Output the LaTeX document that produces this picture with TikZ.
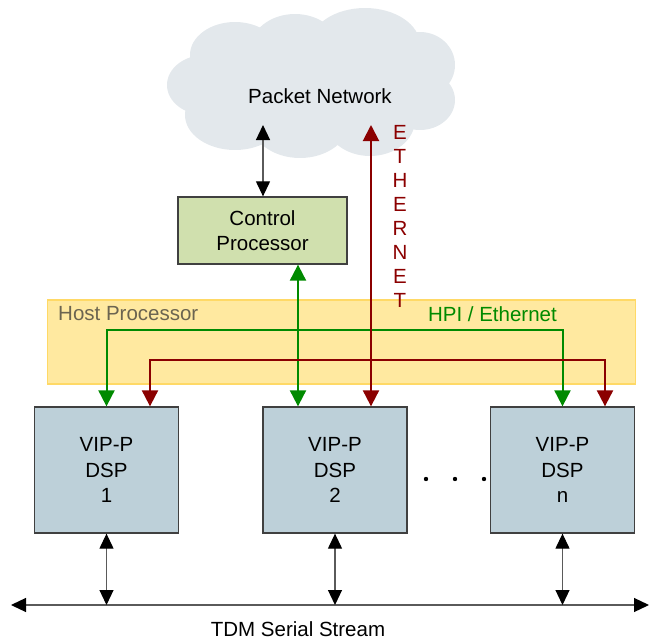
\documentclass[tikz,border=0pt]{standalone}
\usepackage{fontspec}
\setmainfont{Liberation Sans}
\usetikzlibrary{arrows.meta}
\definecolor{cloudfill}{HTML}{E3E8EC}
\definecolor{ctrlfill}{HTML}{D0E0AE}
\definecolor{hostfill}{HTML}{FFE9A0}
\definecolor{hostedge}{HTML}{FFD966}
\definecolor{hosttext}{HTML}{6B6450}
\definecolor{dspfill}{HTML}{BDD0D9}
\definecolor{boxedge}{HTML}{404040}
\definecolor{hpigreen}{HTML}{008A00}
\definecolor{ethred}{HTML}{8B0000}
\definecolor{wire}{HTML}{5A5A5A}
\tikzset{
  lbl/.style={font=\fontsize{20.5}{25.5}\selectfont, align=center, inner sep=0pt},
  ctrlbox/.style={draw=boxedge, line width=1.3pt, fill=ctrlfill, minimum width=169pt, minimum height=67pt, lbl},
  dspbox/.style={draw=boxedge, line width=1.3pt, fill=dspfill, minimum width=144pt, minimum height=126pt, lbl},
  blkarrow/.style={draw=wire, line width=1.2pt, {Triangle[length=15pt,width=14pt,color=black]}-{Triangle[length=15pt,width=14pt,color=black]}},
  grnarrow/.style={draw=hpigreen, line width=2pt, {Triangle[length=16pt,width=16pt]}-{Triangle[length=16pt,width=16pt]}},
  redarrow/.style={draw=ethred, line width=2pt, {Triangle[length=16pt,width=16pt]}-{Triangle[length=16pt,width=16pt]}},
}
\begin{document}
\begin{tikzpicture}[x=1pt, y=-1pt]
\useasboundingbox (0,0) rectangle (649,640);

% cloud built from overlapping puffs
\begin{scope}[fill=cloudfill]
  \fill (205,85) ellipse [x radius=38, y radius=30];
  \fill (235,55) ellipse [x radius=45, y radius=33];
  \fill (295,50) ellipse [x radius=45, y radius=36];
  \fill (365,45) ellipse [x radius=55, y radius=37];
  \fill (420,65) ellipse [x radius=35, y radius=33];
  \fill (420,100) ellipse [x radius=35, y radius=30];
  \fill (370,120) ellipse [x radius=45, y radius=36];
  \fill (300,120) ellipse [x radius=50, y radius=38];
  \fill (235,115) ellipse [x radius=50, y radius=35];
  \fill (310,90) ellipse [x radius=120, y radius=50];
\end{scope}
\node[lbl] (net) at (320,96) {Packet Network};

% host processor band
\node[draw=hostedge, line width=1.2pt, fill=hostfill, minimum width=588pt, minimum height=84pt, inner sep=0pt] (host) at (341.5,342) {};
\node[lbl, text=hosttext, anchor=west] (hostlbl) at (58,314) {Host Processor};
\node[lbl, text=hpigreen, anchor=east] (hpilbl) at (557,314) {HPI / Ethernet};

% processors
\node[ctrlbox] (ctrl) at (262.5,230.5) {Control\\Processor};
\node[dspbox] (dsp1) at (106.5,470) {VIP-P\\DSP\\1};
\node[dspbox] (dsp2) at (335,470) {VIP-P\\DSP\\2};
\node[dspbox] (dspn) at (562.5,470) {VIP-P\\DSP\\n};

% ellipsis between DSPs
\foreach \i/\x in {1/426,2/455,3/484} \fill (\x,479) circle [radius=2.2] coordinate (dot\i);

% connection points in the cloud, bus columns and the TDM bus
\coordinate (netctl) at (263,125);
\coordinate (neteth) at (371,125);
\coordinate (hpicol) at (298,0);
\coordinate (hpirow) at (0,330);
\coordinate (ethrow) at (0,360);
\coordinate (tdmL) at (11,605);
\coordinate (tdmR) at (649,605);

% ETHERNET label
\node[lbl, text=ethred, font=\fontsize{20.5}{24}\selectfont] (ethlbl) at (400,216) {E\\T\\H\\E\\R\\N\\E\\T};

% control processor to packet network
\draw[blkarrow] (ctrl.north -| netctl) -- (netctl);

% HPI / Ethernet buses
\draw[grnarrow] (ctrl.south -| hpicol) -- (dsp2.north -| hpicol);
\draw[grnarrow] (dsp1.north) -- (dsp1.north |- hpirow) -- (dspn.north |- hpirow) -- (dspn.north);
\draw[redarrow] ([xshift=43.5pt]dsp1.north) -- ([xshift=43.5pt]dsp1.north |- ethrow) -- ([xshift=42.5pt]dspn.north |- ethrow) -- ([xshift=42.5pt]dspn.north);
\draw[redarrow] (neteth) -- (dsp2.north -| neteth);

% TDM serial stream
\draw[blkarrow] (tdmL) -- (tdmR);
\foreach \d in {dsp1,dsp2,dspn} \draw[blkarrow] (\d.south) -- (\d.south |- tdmL);
\node[lbl] (tdmlbl) at (298,629) {TDM Serial Stream};
\end{tikzpicture}
\end{document}
